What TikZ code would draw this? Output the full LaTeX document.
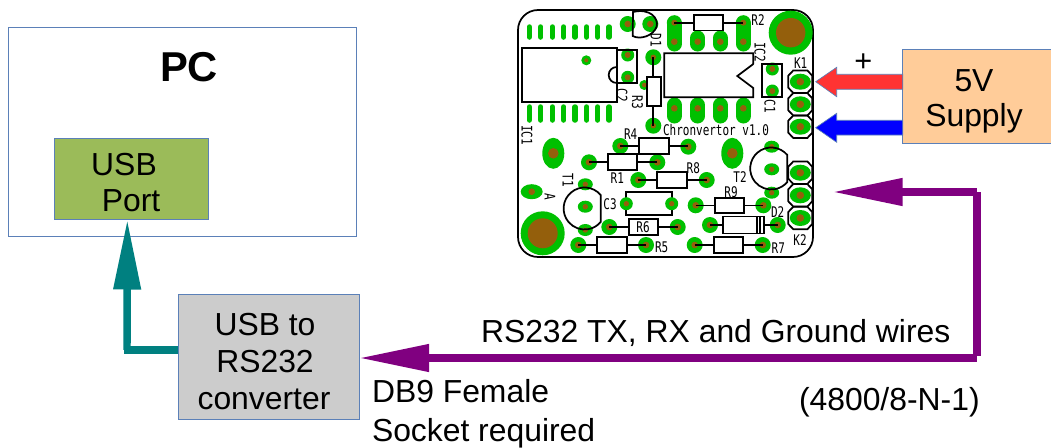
\documentclass[tikz,border=0pt]{standalone}
\usepackage{fontspec}
\setmainfont{Liberation Sans}
\newfontfamily\pcbfont[FakeStretch=0.75]{DejaVu Sans Mono}
\usetikzlibrary{arrows.meta}
\definecolor{padgreen}{HTML}{00C000}
\definecolor{padbrown}{HTML}{945F0C}
\definecolor{edgeblue}{HTML}{5B80B8}
\definecolor{suppfill}{HTML}{FFCC99}
\definecolor{usbgreen}{HTML}{9BBB59}
\definecolor{convgray}{HTML}{CCCCCC}
\definecolor{tealc}{HTML}{008080}
\definecolor{purplec}{HTML}{800080}
\definecolor{redc}{HTML}{FF3333}
\definecolor{bluec}{HTML}{0000FF}
\tikzset{
  x=0.75pt,y=-0.75pt,
  boxed/.style={draw=edgeblue,line width=0.75pt,inner sep=0pt,outer sep=0pt},
  bigtext/.style={font=\fontsize{23.9}{26}\selectfont,inner sep=0pt,outer sep=0pt},
  silk/.style={draw=black,line width=1.3pt},
  pcbtext/.style={font=\pcbfont\fontsize{11}{12}\selectfont,inner sep=0pt,text=black},
  pathw/.style={line width=5.6pt},
}
% round pad: x y r-green r-brown
\newcommand{\rpad}[4]{\fill[padgreen] (#1,#2) circle[radius=#3*0.75pt];\fill[padbrown] (#1,#2) circle[radius=#4*0.75pt];}
% oval pad: x y rx ry brown
\newcommand{\opad}[5]{\fill[padgreen] (#1,#2) ellipse[x radius=#3*0.75pt,y radius=#4*0.75pt];\fill[padbrown] (#1,#2) circle[radius=#5*0.75pt];}
% vertical pill: x y1 y2 width
\newcommand{\vpill}[4]{\draw[padgreen,line width=#4*0.75pt,line cap=round] (#1,#2)--(#1,#3);}
% resistor body with leads: x1 x2 (pads) xa xb (body) y halfheight
\newcommand{\resi}[6]{\draw[silk] (#1,#5)--(#3,#5) (#4,#5)--(#2,#5);\draw[silk,fill=white] (#3,#5-#6) rectangle (#4,#5+#6);}
% connector octagon
\newcommand{\octo}[2]{\draw[silk] (#1-12,#2-6)--(#1-7,#2-11.3)--(#1+7,#2-11.3)--(#1+12,#2-6)--(#1+12,#2+6)--(#1+7,#2+11.3)--(#1-7,#2+11.3)--(#1-12,#2+6)--cycle;}
\begin{document}
\begin{tikzpicture}
\useasboundingbox (0,0) rectangle (1051,447);
% PC
\node[boxed,fill=white,minimum width=348*0.75pt,minimum height=209*0.75pt,anchor=north west] (pc) at (8,27) {};
\node[font=\bfseries\fontsize{31.3}{33}\selectfont,inner sep=0pt] (pclabel) at (189,67) {PC};
\node[boxed,fill=usbgreen,minimum width=154*0.75pt,minimum height=81*0.75pt,anchor=north west] (usb) at (54,138) {};
\node[bigtext] (usba) at (124,165) {USB};
\node[bigtext] (usbb) at (131,201) {Port};
% converter
\node[boxed,fill=convgray,minimum width=181*0.75pt,minimum height=125*0.75pt,anchor=north west] (conv) at (178,294) {};
\node[bigtext] (conva) at (265,325) {USB to};
\node[bigtext] (convb) at (265,362) {RS232};
\node[bigtext] (convc) at (264,399) {converter};
% supply
\node[boxed,fill=suppfill,minimum width=149*0.75pt,minimum height=94*0.75pt,anchor=north west] (supply) at (902.7,49.3) {};
\node[bigtext] (suppa) at (974,81) {5V};
\node[bigtext] (suppb) at (974,118) {Supply};
% board
\draw[fill=white,line width=1.3pt,rounded corners=15pt] (518,10) rectangle (813,257);
% IC1 pads
\foreach \x in {529.3,540.7,552.3,563.7,575,586.7,597.7,609}{\vpill{\x}{27}{37}{5.5}\vpill{\x}{107}{120}{5.5}}
% IC2 pills
\foreach \x in {674.3,697.7,720.3,743.3}{\vpill{\x}{38}{44}{15}\vpill{\x}{105}{116}{15}}
\vpill{674.3}{24}{38}{15}\vpill{743.3}{24}{38}{15}
\foreach \x in {674.3,697.7,720.3,743.3}{
 \fill[padbrown] (\x,41.7) circle[radius=3.3*0.75pt];\fill[padbrown] (\x,108.3) circle[radius=3.3*0.75pt];}
% round pads
\rpad{627.7}{24}{8}{3.3}\rpad{650.3}{24}{8}{3.3}
\rpad{586.3}{60.3}{5}{2}
\rpad{627.7}{55}{6.5}{3}\rpad{627.7}{77.3}{6.5}{3}
\rpad{653.3}{57.3}{8}{2.7}\rpad{653.3}{125.7}{8}{2.7}\rpad{644.3}{85}{5}{2.3}
\rpad{674.3}{22.7}{7.5}{3}\rpad{743.3}{22.7}{7.5}{3}
\rpad{772.3}{69}{6.5}{3}\rpad{772.3}{91}{6.5}{3}
\rpad{790.7}{32.7}{22}{14.7}\rpad{542.7}{233.3}{22}{15}
\opad{553.3}{153.3}{11}{15.5}{5.3}\opad{732.3}{153.3}{11}{15.5}{5.3}
\opad{531.7}{191.7}{11}{7.5}{3.3}
\foreach \y in {184.3,206.7,230}{\opad{585.3}{\y}{7.5}{6}{2.7}}
\foreach \y in {146.7,169.3,192.7}{\opad{771.7}{\y}{7.5}{6}{2.7}}
\foreach \y in {81.7,104.3,126.7,172.7,195.3,218}{\opad{800.3}{\y}{10.5}{8}{3.8}\octo{800.3}{\y}}
\foreach \a/\b in {620.3/146,688.3/146.7,589/162.3,657.3/162.3,638.3/180,706.7/180,609.3/227,677.7/227,578.3/245,646/245,695.7/205.3,763.3/205.3,710/225,777.7/225,694.7/245,762.7/245}{\rpad{\a}{\b}{8}{3.3}}
% silk: IC1, C2, D1
\draw[silk] (521.7,47.7) rectangle (616.7,101.7);
\draw[silk] (616.7,67) arc[start angle=90,end angle=270,radius=8*0.75pt];
\draw[silk] (616.7,50)--(637.3,50)--(637.3,82.7)--(616.7,82.7);
\draw[silk] (633,12) .. controls (650,8) and (659,18) .. (656.5,27) .. controls (653,36) and (640,40) .. (632.7,36) -- cycle;
% R3
\draw[silk] (653.3,57.3)--(653.3,77.3) (653.3,106)--(653.3,125.7);
\draw[silk,fill=white] (646.7,77.3) rectangle (661,106);
% IC2
\draw[silk] (753.3,64)--(753.3,53.3)--(664.3,53.3)--(664.3,97.3)--(753.3,97.3)--(753.3,88)--(737.3,76)--(753.3,64);
\draw[silk] (761.7,64) rectangle (782.3,97.3);
% resistors
\resi{674.3}{743.3}{694}{723.3}{22.7}{7.7}
\resi{620.3}{688.3}{639.3}{669}{146.3}{8}
\resi{589}{657.3}{608.3}{637.3}{162.3}{8}
\resi{638.3}{706.7}{657.3}{686.7}{180.3}{8}
\resi{609.3}{677.7}{629}{657.7}{227}{7.8}
\resi{578.3}{646}{597.3}{626.7}{245}{7.7}
\resi{695.7}{763.3}{715}{744.3}{205.5}{7.8}
\resi{694.7}{762.7}{714}{743.3}{245}{7.7}
\resi{710}{777.7}{723.3}{764.3}{225}{8.5}
\draw[silk] (757,216.7)--(757,233.5) (760,216.7)--(760,233.5);
\draw[silk] (626,192.3)--(672.3,192.3)--(672.3,215)--(626,215)--cycle;
\rpad{626.3}{203.7}{6.5}{2.7}\rpad{671.7}{203.7}{6.5}{2.7}
% transistors
\draw[silk] (600.7,195) arc[start angle=40,end angle=320,radius=21*0.75pt] -- cycle;
\draw[silk] (787.3,155) arc[start angle=40,end angle=320,radius=21*0.75pt] -- cycle;
% pcb labels
\node[pcbtext] (tchron) at (716,130) {Chronvertor v1.0};
\node[pcbtext,rotate=-90] at (656,40) {D1};
\node[pcbtext,rotate=-90] at (527,135) {IC1};
\node[pcbtext,rotate=-90] at (622,95) {C2};
\node[pcbtext,rotate=-90] at (637.5,102) {R3};
\node[pcbtext,rotate=-90] at (760,52) {IC2};
\node[pcbtext,rotate=-90] at (770,106) {C1};
\node[pcbtext,rotate=-90] at (550,196.7) {A};
\node[pcbtext,rotate=-90] at (568,180) {T1};
\node[pcbtext] at (758,20) {R2};
\node[pcbtext] at (800.7,63.3) {K1};
\node[pcbtext] at (800,240) {K2};
\node[pcbtext] at (630.7,134) {R4};
\node[pcbtext] at (617.3,178.3) {R1};
\node[pcbtext] at (693.3,167.7) {R8};
\node[pcbtext] at (610,204.3) {C3};
\node[pcbtext] at (643,227) {R6};
\node[pcbtext] at (661.7,247.7) {R5};
\node[pcbtext] at (740,177.3) {T2};
\node[pcbtext] at (731,191.7) {R9};
\node[pcbtext] at (777.7,212.3) {D2};
\node[pcbtext] at (778.3,247.7) {R7};
% power arrows
\draw[draw=edgeblue,line width=0.5pt,fill=redc] (902.7,74.3)--(836.7,74.3)--(836.7,67.3)--(815.7,81.7)--(836.7,96.7)--(836.7,89.3)--(902.7,89.3)--cycle;
\draw[draw=edgeblue,line width=0.5pt,fill=bluec] (902.7,120.3)--(836.7,120.3)--(836.7,113.3)--(815.7,127.7)--(836.7,142.3)--(836.7,135)--(902.7,135)--cycle;
\node[font=\fontsize{23}{24}\selectfont,inner sep=0pt] (plus) at (863.3,63) {+};
% teal connector
\coordinate (tealbend) at (127,350);
\coordinate (tealend) at (127.3,219.5);
\draw[tealc,pathw] (conv.west |- 0,350) -- (123.5,350);
\draw[tealc,pathw,-{Triangle[length=70*0.75pt,width=26*0.75pt]}] (tealbend) -- (tealend);
% purple connector
\coordinate (pa) at (976.7,192);
\coordinate (pb) at (977,355.5);
\coordinate (pc2) at (976.7,358);
\coordinate (ptip) at (359,358);
\coordinate (ptop) at (832.5,192);
\draw[purplec,pathw] (977,192) -- (pb);
\draw[purplec,pathw,-{Triangle[length=70*0.75pt,width=26*0.75pt]}] (pa) -- (ptop);
\draw[purplec,pathw,-{Triangle[length=70*0.75pt,width=26*0.75pt]}] (pc2) -- (ptip);
% captions
\node[bigtext,anchor=base west] (rstx) at (481,342) {RS232 TX, RX and Ground wires};
\node[bigtext,anchor=base west] (baud) at (799,410) {(4800/8-N-1)};
\node[bigtext,anchor=base west] (dba) at (372,402) {DB9 Female};
\node[bigtext,anchor=base west] (dbb) at (372,441) {Socket required};
\end{tikzpicture}
\end{document}
